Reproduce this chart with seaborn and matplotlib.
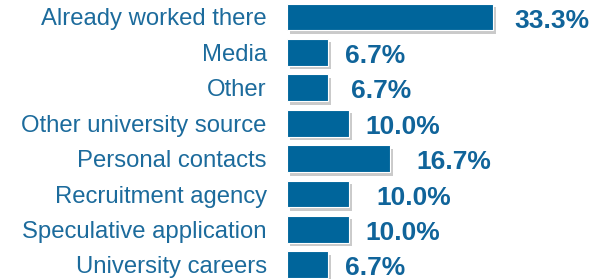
import matplotlib
matplotlib.use("Agg")
import matplotlib.pyplot as plt
import matplotlib.patheffects as pe
import seaborn as sns
import pandas as pd

categories = ["Already worked there", "Media", "Other", "Other university source",
              "Personal contacts", "Recruitment agency", "Speculative application",
              "University careers"]
values = [33.3, 6.7, 6.7, 10.0, 16.7, 10.0, 10.0, 6.7]
value_labels = ["33.3%", "6.7%", "6.7%", "10.0%", "16.7%", "10.0%", "10.0%", "6.7%"]
label_offsets_pt = [15, 12, 16, 12, 19, 20, 12, 12]

df = pd.DataFrame({"category": categories, "value": values})

sns.set_theme(style="white")
plt.rcParams["font.family"] = ["Liberation Sans", "DejaVu Sans"]

bar_color = "#00659B"
text_color = "#1C6B9C"
value_color = "#10649A"

fig = plt.figure(figsize=(6.10, 2.79), dpi=100)
ax = fig.add_axes([287 / 610, 0, 1 - 287 / 610, 1])

sns.barplot(data=df, x="value", y="category", orient="h", color=bar_color,
            width=0.76, saturation=1, ax=ax, edgecolor="white", linewidth=0.8)

for p in ax.patches:
    p.set_path_effects([pe.SimplePatchShadow(offset=(2, -2.5), shadow_rgbFace="#8a8a8a", alpha=0.45),
                        pe.Normal()])

for i, (v, lab, off) in enumerate(zip(values, value_labels, label_offsets_pt)):
    ax.annotate(lab, xy=(v, i), xytext=(off, -2.6), textcoords="offset points",
                ha="left", va="center", fontsize=19, fontweight="bold", color=value_color,
                annotation_clip=False)

ax.set_xlim(0, (610 - 287) / 6.19)
ax.set_ylim(7.40, -0.48)
ax.set_xlabel("")
ax.set_ylabel("")
ax.set_xticks([])
ax.tick_params(axis="y", length=0, pad=14.5, labelsize=17.2, labelcolor=text_color)
for s in ax.spines.values():
    s.set_visible(False)

fig.savefig("out.png", dpi=100)
